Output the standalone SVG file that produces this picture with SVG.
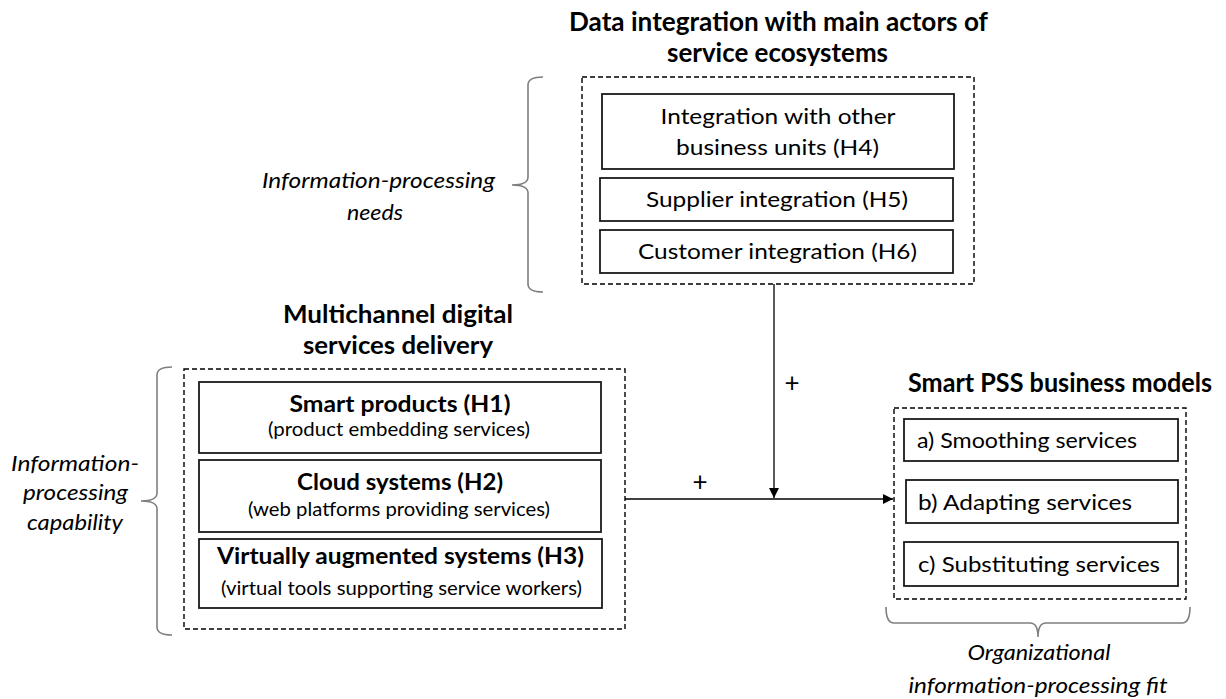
<svg xmlns="http://www.w3.org/2000/svg" width="1226" height="699" viewBox="0 0 1226 699">
<style>
text{font-family:Lato,"Open Sans","Liberation Sans",sans-serif;fill:#000}
.t{font-size:26px;font-weight:bold;text-anchor:middle}
.t2{font-size:25px;font-weight:bold;text-anchor:middle}
.hb{font-size:22px;font-weight:bold;text-anchor:middle}
.hs{font-size:19px;text-anchor:middle}
.r{font-size:22px;text-anchor:middle}
.o{font-size:22px}
.i{font-size:21px;font-style:italic;text-anchor:middle}
.p{font-size:26px;text-anchor:middle}
.box{fill:#fff;stroke:#1a1a1a;stroke-width:1.8}
.dash{fill:none;stroke:#000;stroke-width:1.4;stroke-dasharray:5 3}
.brace{fill:none;stroke:#7f7f7f;stroke-width:1.6}
.conn{fill:none;stroke:#000;stroke-width:1.3}
</style>
<defs>
<marker id="arr" markerUnits="userSpaceOnUse" markerWidth="12" markerHeight="10" refX="10" refY="5" orient="auto">
<path d="M0,0 L10,5 L0,10 Z" fill="#000"/>
</marker>
</defs>

<g id="needs-label">
<path class="brace" d="M543,77 Q528,77 528,85 L528,177 Q528,185 512,185 Q528,185 528,193 L528,284 Q528,292 543,292"/>
<text class="i" x="378.5" y="188" textLength="233" lengthAdjust="spacingAndGlyphs">Information-processing</text>
<text class="i" x="375" y="220" textLength="56" lengthAdjust="spacingAndGlyphs">needs</text>
</g>

<g id="data-integration">
<text class="t" x="778.5" y="31" textLength="419" lengthAdjust="spacingAndGlyphs">Data integration with main actors of</text>
<text class="t" x="777.5" y="62" textLength="221" lengthAdjust="spacingAndGlyphs">service ecosystems</text>
<rect class="dash" x="582" y="77" width="392" height="207"/>
<g id="h4">
<rect class="box" x="602" y="94" width="352" height="75"/>
<text class="r" x="778" y="124" textLength="235" lengthAdjust="spacingAndGlyphs">Integration with other</text>
<text class="r" x="777.5" y="155" textLength="203" lengthAdjust="spacingAndGlyphs">business units (H4)</text>
</g>
<g id="h5">
<rect class="box" x="600" y="178" width="353" height="43"/>
<text class="r" x="777" y="207" textLength="262" lengthAdjust="spacingAndGlyphs">Supplier integration (H5)</text>
</g>
<g id="h6">
<rect class="box" x="600" y="230" width="353" height="43"/>
<text class="r" x="777.5" y="259" textLength="279" lengthAdjust="spacingAndGlyphs">Customer integration (H6)</text>
</g>
</g>

<g id="capability-label">
<path class="brace" d="M172,367 Q157,367 157,375 L157,493 Q157,501 141,501 Q157,501 157,509 L157,627 Q157,635 172,635"/>
<text class="i" x="75" y="471" textLength="128" lengthAdjust="spacingAndGlyphs">Information-</text>
<text class="i" x="75.5" y="500" textLength="105" lengthAdjust="spacingAndGlyphs">processing</text>
<text class="i" x="75" y="530" textLength="96" lengthAdjust="spacingAndGlyphs">capability</text>
</g>

<g id="multichannel">
<text class="t2" x="398" y="323" textLength="230" lengthAdjust="spacingAndGlyphs">Multichannel digital</text>
<text class="t2" x="398" y="354" textLength="190" lengthAdjust="spacingAndGlyphs">services delivery</text>
<rect class="dash" x="184" y="369" width="441" height="260"/>
<g id="h1">
<rect class="box" x="199" y="382" width="402" height="71"/>
<text class="hb" x="400" y="412" textLength="221" lengthAdjust="spacingAndGlyphs">Smart products (H1)</text>
<text class="hs" x="399" y="436" textLength="262" lengthAdjust="spacingAndGlyphs">(product embedding services)</text>
</g>
<g id="h2">
<rect class="box" x="199" y="460" width="402" height="72"/>
<text class="hb" x="400" y="490" textLength="206" lengthAdjust="spacingAndGlyphs">Cloud systems (H2)</text>
<text class="hs" x="399" y="516" textLength="302" lengthAdjust="spacingAndGlyphs">(web platforms providing services)</text>
</g>
<g id="h3">
<rect class="box" x="199" y="539" width="403" height="69"/>
<text class="hb" x="400.5" y="564" textLength="367" lengthAdjust="spacingAndGlyphs">Virtually augmented systems (H3)</text>
<text class="hs" x="401.5" y="595" textLength="361" lengthAdjust="spacingAndGlyphs">(virtual tools supporting service workers)</text>
</g>
</g>

<g id="smart-pss">
<text class="t" x="1060" y="392" textLength="304" lengthAdjust="spacingAndGlyphs">Smart PSS business models</text>
<rect class="dash" x="894" y="408" width="292" height="191"/>
<g id="a-smoothing">
<rect class="box" x="904" y="419" width="274" height="42"/>
<text class="o" x="917" y="448" textLength="220" lengthAdjust="spacingAndGlyphs">a) Smoothing services</text>
</g>
<g id="b-adapting">
<rect class="box" x="906" y="480" width="272" height="43"/>
<text class="o" x="918" y="510" textLength="214" lengthAdjust="spacingAndGlyphs">b) Adapting services</text>
</g>
<g id="c-substituting">
<rect class="box" x="904" y="542" width="274" height="44"/>
<text class="o" x="918" y="572" textLength="242" lengthAdjust="spacingAndGlyphs">c) Substituting services</text>
</g>
</g>

<g id="fit-label">
<path class="brace" d="M886,607 Q886,623 894,623 L1030,623 Q1038,623 1038,637 Q1038,623 1046,623 L1182,623 Q1190,623 1190,607"/>
<text class="i" x="1039" y="660" textLength="143" lengthAdjust="spacingAndGlyphs">Organizational</text>
<text class="i" x="1038" y="693" textLength="259" lengthAdjust="spacingAndGlyphs">information-processing fit</text>
</g>

<g id="connectors">
<line class="conn" x1="625" y1="499" x2="893" y2="499" marker-end="url(#arr)"/>
<line class="conn" x1="774" y1="284" x2="774" y2="498" marker-end="url(#arr)"/>
<text class="p" x="700" y="491">+</text>
<text class="p" x="792" y="392">+</text>
</g>
</svg>
